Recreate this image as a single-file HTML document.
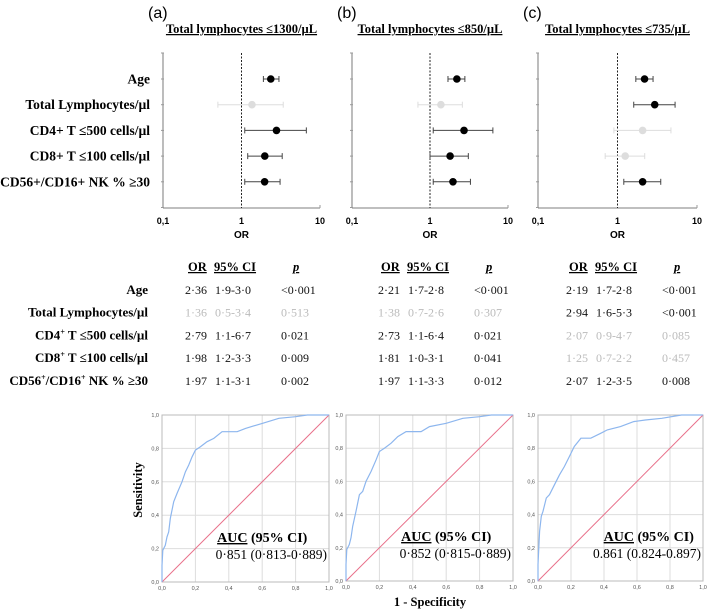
<!DOCTYPE html>
<html><head><meta charset="utf-8"><style>
body{margin:0;background:#fff;}
svg{display:block;}
</style></head><body>
<svg id="fig" width="709" height="612" xmlns="http://www.w3.org/2000/svg" font-family="Liberation Serif, serif"></svg>
<script>
const rowLabels = ["Age","Total Lymphocytes/µl","CD4+ T ≤500 cells/µl","CD8+ T ≤100 cells/µl","CD56+/CD16+ NK % ≥30"];
const tableLabels = ["Age","Total Lymphocytes/µl","CD4<tspan font-size='8' dy='-5'>+</tspan><tspan dy='5'> T ≤500 cells/µl</tspan>","CD8<tspan font-size='8' dy='-5'>+</tspan><tspan dy='5'> T ≤100 cells/µl</tspan>","CD56<tspan font-size='8' dy='-5'>+</tspan><tspan dy='5'>/CD16</tspan><tspan font-size='8' dy='-5'>+</tspan><tspan dy='5'> NK % ≥30</tspan>"];
const panelTitles = ["Total lymphocytes ≤1300/µL","Total lymphocytes ≤850/µL","Total lymphocytes ≤735/µL"];
const panelLetters = ["(a)","(b)","(c)"];
const orA = [2.36,1.36,2.79,1.98,1.97], loA=[1.9,0.5,1.1,1.2,1.1], hiA=[3.0,3.4,6.7,3.3,3.1];
const orB = [2.21,1.38,2.73,1.81,1.97], loB=[1.7,0.7,1.1,1.0,1.1], hiB=[2.8,2.6,6.4,3.1,3.3];
const orC = [2.19,2.94,2.07,1.25,2.07], loC=[1.7,1.6,0.9,0.7,1.2], hiC=[2.8,5.3,4.7,2.2,3.5];
const pA = ["<0·001","0·513","0·021","0·009","0·002"];
const pB = ["<0·001","0·307","0·021","0·041","0·012"];
const pC = ["<0·001","<0·001","0·085","0·457","0·008"];
const sigA=[1,0,1,1,1], sigB=[1,0,1,1,1], sigC=[1,1,0,0,1];
const orTicks = [0.1,1,10], orTickLabels=["0,1","1","10"];
const rocTicks = [0,0.2,0.4,0.6,0.8,1.0], rocTickLabels=["0,0","0,2","0,4","0,6","0,8","1,0"];
const rocFprA=[0,0,0.005,0.02,0.03,0.04,0.05,0.07,0.09,0.12,0.14,0.16,0.18,0.2,0.23,0.27,0.31,0.36,0.45,0.5,0.6,0.7,0.8,0.87,1];
const rocTprA=[0,0.1,0.19,0.22,0.27,0.3,0.38,0.48,0.53,0.6,0.66,0.7,0.75,0.79,0.81,0.84,0.86,0.9,0.9,0.92,0.95,0.98,0.99,1,1];
const rocFprB=[0,0,0.005,0.02,0.03,0.04,0.06,0.08,0.1,0.12,0.15,0.18,0.2,0.23,0.27,0.31,0.36,0.45,0.5,0.6,0.7,0.8,0.87,1];
const rocTprB=[0,0.1,0.19,0.22,0.26,0.33,0.42,0.52,0.54,0.6,0.66,0.73,0.78,0.8,0.83,0.87,0.9,0.9,0.93,0.95,0.98,0.99,1,1];
const rocFprC=[0,0,0.005,0.01,0.02,0.03,0.05,0.07,0.1,0.13,0.16,0.19,0.22,0.26,0.32,0.38,0.42,0.5,0.58,0.65,0.75,0.87,1];
const rocTprC=[0,0.1,0.2,0.3,0.39,0.42,0.5,0.52,0.58,0.64,0.69,0.75,0.81,0.86,0.86,0.89,0.91,0.93,0.96,0.97,0.98,1,1];
const aucVals = ["0·851 (0·813-0·889)","0·852 (0·815-0·889)","0.861 (0.824-0.897)"];

const NS="http://www.w3.org/2000/svg", svg=document.getElementById('fig');
function mk(tag,attrs,parent){const e=document.createElementNS(NS,tag);for(const k in attrs)e.setAttribute(k,attrs[k]);(parent||svg).appendChild(e);return e;}
function txt(s,attrs,parent){const e=mk('text',attrs,parent);e.innerHTML=s;return e;}

const forests=[{l:163,r:320,or:orA,lo:loA,hi:hiA,sig:sigA},{l:352,r:508,or:orB,lo:loB,hi:hiB,sig:sigB},{l:538,r:697,or:orC,lo:loC,hi:hiC,sig:sigC}];
const rowY=i=>79+i*25.7, plotTop=53, plotBottom=208;
forests.forEach((f,p)=>{
  const g=mk('g',{});
  
  
  const x=v=>f.l+(Math.log10(v)+1)/2*(f.r-f.l);
  const lt=txt(panelLetters[p],{x:x(0.1)-15,y:18,'font-family':'Liberation Sans, sans-serif','font-size':16},g);
  
  const t=txt(panelTitles[p],{x:(f.l+f.r)/2,y:33,'text-anchor':'middle','font-weight':'bold','font-size':12.5,'text-decoration':'underline'},g);
  
  mk('line',{x1:f.l,y1:plotTop,x2:f.l,y2:plotBottom,stroke:'#999','stroke-width':1.3},g);
  mk('line',{x1:f.l,y1:plotBottom,x2:f.r,y2:plotBottom,stroke:'#999','stroke-width':1.3},g);
  for(let i=-1;i<=5;i++){const yy=i<0?plotTop:rowY(i);mk('line',{x1:f.l-2,y1:yy,x2:f.l+1,y2:yy,stroke:'#999'},g);}
  mk('line',{x1:f.r,y1:plotBottom-3,x2:f.r,y2:plotBottom,stroke:'#999'},g);
  orTicks.forEach((v,i)=>{const tl=txt(orTickLabels[i],{x:x(v),y:plotBottom+16,'text-anchor':'middle','font-family':'Liberation Sans, sans-serif','font-weight':'bold','font-size':9},g);});
  const ot=txt('OR',{x:x(1),y:plotBottom+30,'text-anchor':'middle','font-family':'Liberation Sans, sans-serif','font-weight':'bold','font-size':10},g);
  
  mk('line',{x1:x(1),y1:plotTop,x2:x(1),y2:plotBottom,stroke:'#222','stroke-dasharray':'2,1.5','stroke-width':1},g);
  f.or.forEach((v,i)=>{
    const col=f.sig[i]?'#444':'#ddd', dot=f.sig[i]?'#000':'#ddd', y=rowY(i);
    const l=mk('line',{x1:x(f.lo[i]),y1:y,x2:x(f.hi[i]),y2:y,stroke:col,'stroke-width':1},g);
    
    mk('line',{x1:x(f.lo[i]),y1:y-3,x2:x(f.lo[i]),y2:y+3,stroke:col},g);
    mk('line',{x1:x(f.hi[i]),y1:y-3,x2:x(f.hi[i]),y2:y+3,stroke:col},g);
    const c=mk('circle',{cx:x(v),cy:y,r:3.8,fill:dot},g);
    
  });
});
rowLabels.forEach((s,i)=>{const e=txt(s,{x:150,y:rowY(i)+4.5,'text-anchor':'end','font-weight':'bold','font-size':13.5});});

const tRow=i=>294+i*22.7;
tableLabels.forEach((s,i)=>{const e=txt(s,{x:148,y:tRow(i),'text-anchor':'end','font-weight':'bold','font-size':13});});
const cols=[{x:185,or:orA,lo:loA,hi:hiA,p:pA,sig:sigA},{x:378,or:orB,lo:loB,hi:hiB,p:pB,sig:sigB},{x:566,or:orC,lo:loC,hi:hiC,p:pC,sig:sigC}];
const f1=v=>v.toFixed(1).replace('.','·'), f2=v=>v.toFixed(2).replace('.','·');
cols.forEach(c=>{
  [['OR',3],['95% CI',29],['p',108]].forEach(([h,dx])=>{const e=txt(h,{x:c.x+dx,y:271,'font-weight':'bold','font-size':12.5,'text-decoration':'underline','font-style':h==='p'?'italic':'normal'});});
  c.or.forEach((v,i)=>{
    const col=c.sig[i]?'#111':'#bbb';
    const a=txt(f2(v),{x:c.x,y:tRow(i),'font-size':12,fill:col});
    const b=txt(f1(c.lo[i])+'-'+f1(c.hi[i]),{x:c.x+30,y:tRow(i),'font-size':12,fill:col});
    const d=txt(c.p[i].replace('<','&lt;'),{x:c.x+96,y:tRow(i),'font-size':12,fill:col});
  });
});

const rocs=[{l:162,r:329,t:415,b:582,fx:rocFprA,ty:rocTprA},{l:346,r:513,t:415,b:581,fx:rocFprB,ty:rocTprB},{l:538,r:703,t:415,b:581,fx:rocFprC,ty:rocTprC}];
rocs.forEach((R,p)=>{
  const g=mk('g',{});
  
  
  const X=v=>R.l+v*(R.r-R.l), Y=v=>R.b-v*(R.b-R.t);
  rocTicks.forEach((v,i)=>{
    mk('line',{x1:X(v),y1:R.t,x2:X(v),y2:R.b,stroke:'#ddd','stroke-width':1},g);
    mk('line',{x1:R.l,y1:Y(v),x2:R.r,y2:Y(v),stroke:'#ddd','stroke-width':1},g);
    const a=txt(rocTickLabels[i],{x:X(v),y:R.b+8,'text-anchor':'middle','font-family':'Liberation Sans, sans-serif','font-size':5.5,fill:'#555'},g);
    const b=txt(rocTickLabels[i],{x:R.l-3,y:Y(v)+2,'text-anchor':'end','font-family':'Liberation Sans, sans-serif','font-size':5.5,fill:'#555'},g);
  });
  mk('rect',{x:R.l,y:R.t,width:R.r-R.l,height:R.b-R.t,fill:'none',stroke:'#bbb'},g);
  const d=mk('line',{x1:X(0),y1:Y(0),x2:X(1),y2:Y(1),stroke:'#e8708a','stroke-width':1},g);
  
  let pts='';R.fx.forEach((v,i)=>{pts+=X(v).toFixed(1)+','+Y(R.ty[i]).toFixed(1)+' ';});
  const pl=mk('polyline',{points:pts,fill:'none',stroke:'#8db6ee','stroke-width':1.2},g);
  
  const ax=R.l+(p===2?0.41:0.33)*(R.r-R.l);
  const a1=txt('<tspan text-decoration="underline">AUC</tspan> (95% CI)',{x:ax+(p===2?-2:0),y:R.b-40,'font-weight':'bold','font-size':14},g);
  
  const a2=txt(aucVals[p],{x:R.r-2,y:R.b-23,'text-anchor':'end','font-size':13.5},g);
  
});
const sy=txt('Sensitivity',{x:0,y:0,transform:'translate(142,490) rotate(-90)','text-anchor':'middle','font-weight':'bold','font-size':12.5});

const sx=txt('1 - Specificity',{x:430,y:606,'text-anchor':'middle','font-weight':'bold','font-size':12.5});

</script>
</body></html>
